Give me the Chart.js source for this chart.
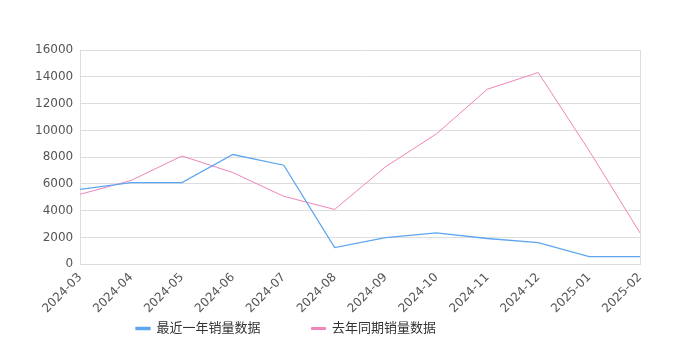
<!DOCTYPE html>
<html lang="zh">
<head>
  <meta charset="UTF-8">
  <title>销量数据</title>
  <script src="https://cdn.jsdelivr.net/npm/chart.js"></script>
  <style>
    body { margin: 0; background: #fff; }
    #chart-container { width: 680px; height: 350px; }
    #chart { width: 100% !important; height: 100% !important; display: block; }
  </style>
</head>
<body>
  <div id="chart-container">
    <canvas id="chart"></canvas>
  </div>

  <script>
    // 月份
    const months = ['2024-03', '2024-04', '2024-05', '2024-06', '2024-07', '2024-08',
                    '2024-09', '2024-10', '2024-11', '2024-12', '2025-01', '2025-02'];
    // 最近一年销量
    const recentSales = [5600, 6100, 6100, 8200, 7400, 1250, 2000, 2350, 1930, 1630, 580, 580];
    // 去年同期销量
    const lastYearSales = [5230, 6260, 8090, 6850, 5080, 4100, 7280, 9740, 13070, 14320, 8490, 2350];

    const fontFamily = '"DejaVu Sans", "Noto Sans CJK SC", sans-serif';
    const gridColor = '#dddddd';
    const legendGap = 51;

    // legend: fixed height, moved under the axis labels and a bit to the left
    const legendPlacer = {
      id: 'legendPlacer',
      beforeInit(chart) {
        const fit = chart.legend.fit;
        chart.legend.fit = function () {
          fit.call(this);
          this.height = 28;
        };
      },
      afterLayout(chart) {
        const lg = chart.legend;
        lg.top = 322 - legendGap;
        lg.bottom = chart.height;
        lg.left = 0;
        lg.right = 2 * 136 - legendGap + lg.lineWidths[0];
      }
    };

    const ctx = document.getElementById('chart').getContext('2d');
    new Chart(ctx, {
      type: 'line',
      data: {
        labels: months,
        datasets: [
          {
            label: '最近一年销量数据',
            data: recentSales,
            borderColor: '#5ea6ef',
            backgroundColor: '#5ea6ef',
            borderWidth: 1.3,
            pointRadius: 0,
            tension: 0
          },
          {
            label: '去年同期销量数据',
            data: lastYearSales,
            borderColor: '#f084bb',
            backgroundColor: '#f084bb',
            borderWidth: 1,
            pointRadius: 0,
            tension: 0
          }
        ]
      },
      options: {
        responsive: true,
        maintainAspectRatio: false,
        animation: false,
        layout: { padding: { top: 50, right: 40, left: 28, bottom: 0 } },
        scales: {
          x: {
            grid: {
              color: c => (c.index === 0 || c.index === months.length - 1) ? gridColor : 'rgba(0,0,0,0)',
              drawTicks: false
            },
            border: { color: gridColor },
            ticks: {
              color: '#555',
              font: { family: fontFamily, size: 12 },
              maxRotation: 45,
              minRotation: 45,
              padding: 6
            }
          },
          y: {
            min: 0,
            max: 16000,
            grid: { color: gridColor, drawTicks: false },
            border: { color: gridColor },
            ticks: {
              stepSize: 2000,
              color: '#555',
              font: { family: fontFamily, size: 12 },
              padding: 7,
              callback: v => String(v)
            }
          }
        },
        plugins: {
          legend: {
            position: 'bottom',
            labels: {
              boxWidth: 14,
              boxHeight: 2,
              color: '#333',
              font: { family: fontFamily, size: 13 },
              padding: legendGap
            }
          },
          tooltip: { enabled: false }
        }
      },
      plugins: [legendPlacer]
    });
  </script>
</body>
</html>
